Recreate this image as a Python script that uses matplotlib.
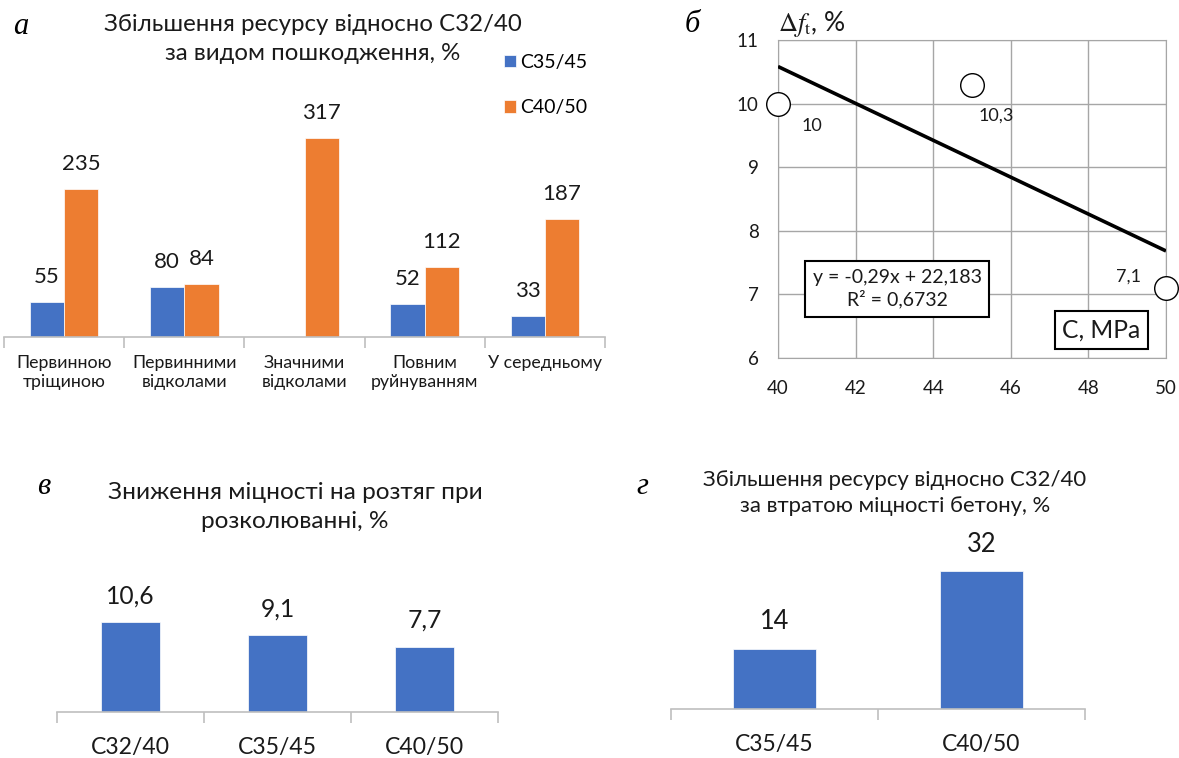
import matplotlib.pyplot as plt
import numpy as np

plt.rcParams['font.family'] = ['Lato', 'DejaVu Sans']
plt.rcParams['mathtext.fontset'] = 'stix'

W, H = 1179, 758

# а: gain in service life vs C32/40 by damage type, %
damage_types = ['Первинною\nтріщиною', 'Первинними\nвідколами', 'Значними\nвідколами',
                'Повним\nруйнуванням', 'У середньому']
gain_c35 = [55, 80, np.nan, 52, 33]
gain_c40 = [235, 84, 317, 112, 187]

# б: drop of splitting tensile strength vs class strength
strength_c = [40, 45, 50]
strength_drop = [10, 10.3, 7.1]
trend_slope, trend_icpt = -0.29, 22.183
trend_r2 = 0.6732

# в: drop of splitting tensile strength, %
split_classes = ['С32/40', 'С35/45', 'С40/50']
split_drop = [10.6, 9.1, 7.7]

# г: gain in service life vs C32/40 by strength loss, %
loss_classes = ['С35/45', 'С40/50']
loss_gain = [14, 32]

BLUE = '#4472C4'
ORANGE = '#ED7D31'
AXIS_GRAY = '#bfbfbf'
TXT = '#1a1a1a'


def comma(v):
    return f'{v:g}'.replace('.', ',')


def px_axes(x0, y0, x1, y1):
    return fig.add_axes([x0 / W, 1 - y1 / H, (x1 - x0) / W, (y1 - y0) / H])


def px_text(x, y, s, **kw):
    return fig.text(x / W, 1 - y / H, s, **kw)


def category_axis(ax, n, labels, size, pad):
    for s in ['top', 'right', 'left']:
        ax.spines[s].set_visible(False)
    ax.spines['bottom'].set_color(AXIS_GRAY)
    ax.spines['bottom'].set_linewidth(1.2)
    ax.set_xlim(-0.5, n - 0.5)
    ax.set_yticks([])
    ax.set_xticks(range(n))
    ax.set_xticklabels(labels, fontsize=size, color=TXT)
    ax.set_xticks(np.arange(n + 1) - 0.5, minor=True)
    ax.tick_params(axis='x', which='major', length=0, pad=pad)
    ax.tick_params(axis='x', which='minor', length=8, width=1.2, color=AXIS_GRAY, direction='out')
    ax.patch.set_alpha(0)


def bar_labels(ax, xs, vals, size, off):
    for x, v in zip(xs, vals):
        if np.isnan(v):
            continue
        ax.annotate(comma(v), (x, v), xytext=(0, off), textcoords='offset pixels',
                    ha='center', va='center', fontsize=size, color=TXT, annotation_clip=False)


def panel_letter(x, y, s):
    px_text(x, y, s, fontsize=22, family='Liberation Serif', style='italic',
            ha='center', va='center')


fig = plt.figure(figsize=(W / 100, H / 100), dpi=100)

# ---- а ----
ax1 = px_axes(4, 117, 605, 337)
x = np.arange(len(damage_types))
bw = 0.285
ax1.bar(x - bw / 2, gain_c35, bw, color=BLUE, edgecolor='white', linewidth=0.5, label='С35/45')
ax1.bar(x + bw / 2, gain_c40, bw, color=ORANGE, edgecolor='white', linewidth=0.5, label='С40/50')
ax1.set_ylim(0, 350)
category_axis(ax1, len(damage_types), damage_types, 12.8, 13)
bar_labels(ax1, x - bw / 2, np.array(gain_c35, float), 16, 25)
bar_labels(ax1, x + bw / 2, np.array(gain_c40, float), 16, 25)
ax1.legend(loc='upper left', bbox_to_anchor=(504 / W, 1 - 54 / H), bbox_transform=fig.transFigure,
           frameon=False, fontsize=14, handlelength=0.62, handleheight=0.62, handletextpad=0.2,
           labelspacing=1.45, borderpad=0, borderaxespad=0)
px_text(313, 39, 'Збільшення ресурсу відносно С32/40\nза видом пошкодження, %',
        ha='center', va='center', fontsize=17.3, color=TXT, linespacing=1.5)
panel_letter(21, 27, 'а')

# ---- б ----
ax2 = px_axes(778, 40, 1166, 358)
xx = np.array([40, 50])
ax2.plot(xx, trend_slope * xx + trend_icpt, color='black', lw=2.6, solid_capstyle='butt', zorder=3)
ax2.plot(strength_c, strength_drop, 'o', ms=17, mfc='white', mec='black', mew=1.0,
         clip_on=False, zorder=4)
ax2.set_xlim(40, 50)
ax2.set_ylim(6, 11)
ax2.set_xticks(range(40, 51, 2))
ax2.set_yticks(range(6, 12))
ax2.grid(True, color='#a6a6a6', lw=1)
for s in ax2.spines.values():
    s.set_color('#a6a6a6')
ax2.tick_params(length=0, labelsize=13.5, colors=TXT)
ax2.tick_params(axis='y', pad=14)
ax2.tick_params(axis='x', pad=16)
offsets = [(34, -22), (24, -31), (-38, 11)]
for cx, cy, (dx, dy) in zip(strength_c, strength_drop, offsets):
    ax2.annotate(comma(cy), (cx, cy), xytext=(dx, dy), textcoords='offset pixels',
                 ha='center', va='center', fontsize=13, color=TXT, annotation_clip=False)
eq = f'y = {comma(trend_slope)}x + {comma(trend_icpt)}\nR² = {comma(trend_r2)}'
ax2.text(0.307, 0.217, eq, transform=ax2.transAxes, ha='center', va='center', fontsize=14,
         color=TXT, linespacing=1.25,
         bbox=dict(boxstyle='square,pad=0.4', fc='white', ec='black', lw=1.5), zorder=5)
ax2.text(0.833, 0.088, 'C, MPa', transform=ax2.transAxes, ha='center', va='center', fontsize=17.7,
         color=TXT, bbox=dict(boxstyle='square,pad=0.3', fc='white', ec='black', lw=1.5), zorder=5)
px_text(812, 24, r'$\Delta f_{\rm t}$, %', ha='center', va='center', fontsize=19, color=TXT)
panel_letter(692, 25, 'б')

# ---- в ----
ax3 = px_axes(57, 593, 498, 712)
x3 = np.arange(len(split_classes))
ax3.bar(x3, split_drop, 0.4, color=BLUE, edgecolor='white', linewidth=0.5)
ax3.set_ylim(0, 14)
category_axis(ax3, len(split_classes), split_classes, 16.6, 18)
bar_labels(ax3, x3, np.array(split_drop, float), 17.7, 26)
px_text(295, 507, 'Зниження міцності на розтяг при\nрозколюванні, %', ha='center', va='center',
        fontsize=17.6, color=TXT, linespacing=1.45)
panel_letter(44, 487, 'в')

# ---- г ----
ax4 = px_axes(671, 537, 1085, 709)
x4 = np.arange(len(loss_classes))
ax4.bar(x4, loss_gain, 0.4, color=BLUE, edgecolor='white', linewidth=0.5)
ax4.set_ylim(0, 40)
category_axis(ax4, len(loss_classes), loss_classes, 16.5, 18)
bar_labels(ax4, x4, np.array(loss_gain, float), 18.4, 27)
px_text(895, 493, 'Збільшення ресурсу відносно С32/40\nза втратою міцності бетону, %', ha='center',
        va='center', fontsize=15.9, color=TXT, linespacing=1.4)
panel_letter(642, 487, 'г')

fig.savefig('out.png', dpi=100)
